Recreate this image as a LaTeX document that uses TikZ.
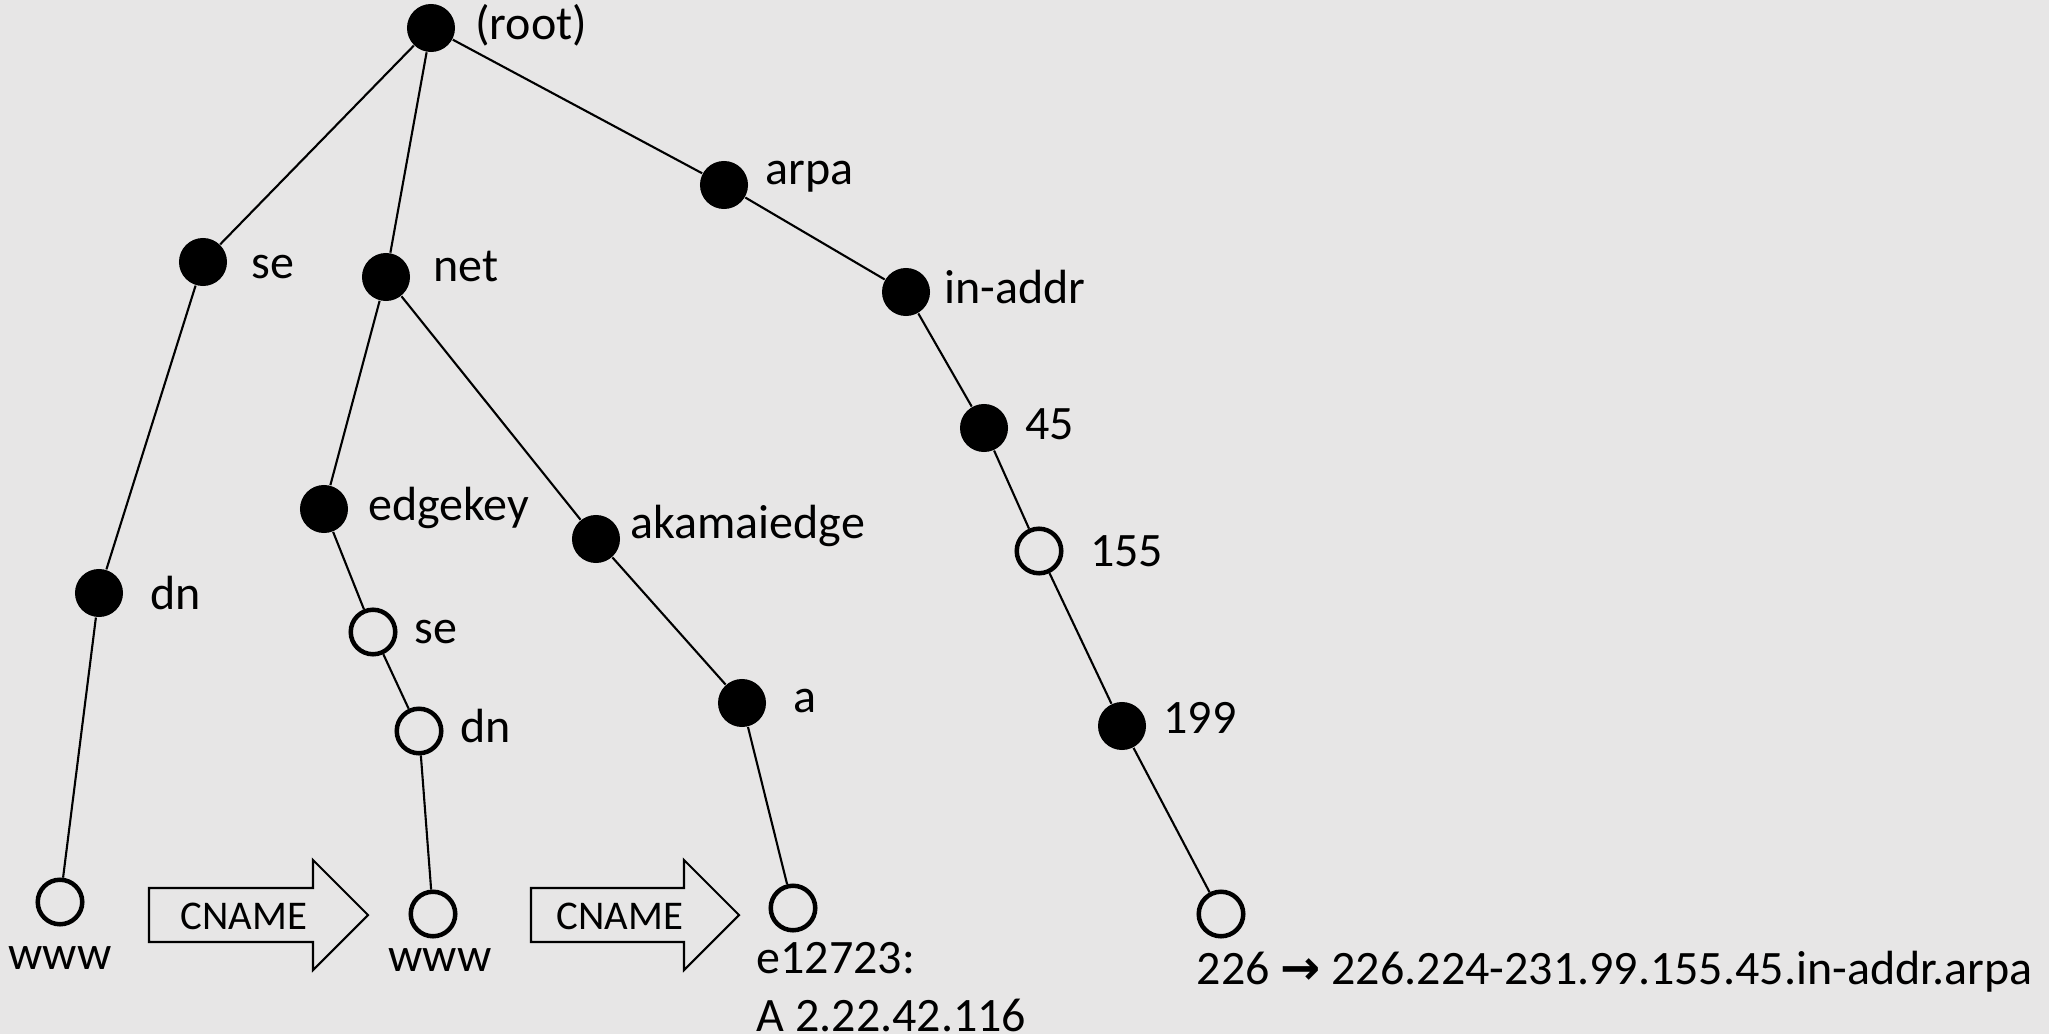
\documentclass[tikz,border=0pt]{standalone}
\usepackage{fontspec}
\setmainfont{Carlito}
\newfontfamily\arrowfont{DejaVu Sans}
\usepackage{tikz}
\usetikzlibrary{shapes,arrows, positioning}
\definecolor{slidegray}{RGB}{231,230,230}
\newcommand{\lblfont}{\fontsize{13.65}{16.4}\selectfont}
\tikzstyle{bnode} = [circle, fill, inner sep = 0pt, minimum size = 0.48cm]
\tikzstyle{onode} = [circle, draw, fill = slidegray, line width = 0.045cm, inner sep = 0pt, minimum size = 0.445cm]
\tikzstyle{line} = [draw, line width = 0.6pt]
\tikzstyle{cname} = [draw, line width = 0.6pt]
\tikzset{every label/.style = {inner sep = 0pt, text height = 0.83em, text depth = 0.17em, font = \lblfont}}

\begin{document}
\begin{tikzpicture}[x = 0.01cm, y = -0.01cm, label distance = 0.16cm]
			\path [use as bounding box, fill = slidegray] (0, 0) rectangle (2049, 1034);

			\node [bnode, label={[xshift=0.03cm]right:(root)}] (root) at (431, 28) {};
			\node [bnode, label={[xshift=0.07cm, yshift=-0.05cm]right:se}] (se) at (203, 262) {};
			\node [bnode, label={[xshift=0.06cm, yshift=0.07cm]right:net}] (net) at (386, 277) {};
			\node [bnode, label={[yshift=0.12cm]right:arpa}] (arpa) at (724, 185) {};
			\node [bnode, label={[xshift=-0.03cm]right:in-addr}] (inaddr) at (906, 292) {};
			\node [bnode, label=right:{45}] (45) at (984, 428) {};
			\node [onode, label={[xshift=0.1cm, yshift=-0.04cm]right:155}] (155) at (1039, 551) {};
			\node [bnode, label={[yshift=0.04cm]right:199}] (199) at (1122, 726) {};
			\node [onode, label={[anchor=north west, xshift=-0.25cm]below:226 {\arrowfont\bfseries →} 226.224-231.99.155.45.in-addr.arpa}] (226) at (1221, 914) {};

			\node [bnode, label={[xshift=0.1cm, yshift=-0.05cm]right:dn}] (dn) at (99, 593) {};
			\node [onode, label={[yshift=0.03cm]below:www}] (wwwa) at (60, 902) {};

			\node [bnode, label={[xshift=0.03cm]right:edgekey}] (edgekey) at (324, 509) {};
			\node [onode, label=right:{se}] (seb) at (373, 632) {};
			\node [onode, label=right:{dn}] (dnb) at (419, 731) {};
			\node [onode, label={[xshift=0.07cm, yshift=0.125cm]below:www}] (wwwb) at (433, 914) {};

			\node [bnode, label={[xshift=-0.07cm, yshift=0.12cm]right:akamaiedge}] (akamai) at (596, 539) {};
			\node [bnode, label={[xshift=0.1cm, yshift=0.02cm]right:a}] (a) at (742, 703) {};
			\node [onode, label={[anchor=north west, xshift=-0.37cm, yshift=0.065cm, align=left, text height=, text depth=]below:e12723:\\A 2.22.42.116}] (e12723) at (793, 908) {};

			\path [line] (root) -- (se);
			\path [line] (root) -- (net);
			\path [line] (root) -- (arpa);
			\path [line] (se) -- (dn);
			\path [line] (dn) -- (wwwa);
			\path [line] (net) -- (edgekey);
			\path [line] (net) -- (akamai);
			\path [line] (edgekey) -- (seb);
			\path [line] (seb) -- (dnb);
			\path [line] (dnb) -- (wwwb);
			\path [line] (akamai) -- (a);
			\path [line] (a) -- (e12723);
			\path [line] (arpa) -- (inaddr);
			\path [line] (inaddr) -- (45);
			\path [line] (45) -- (155);
			\path [line] (155) -- (199);
			\path [line] (199) -- (226);

			% CNAME block arrows
			\coordinate (cn1) at (149, 915);
			\coordinate (cn2) at (531, 915);
			\draw [cname] (cn1) ++(0, -27) -- ++(164, 0) -- ++(0, -28) -- ++(55, 55) -- ++(-55, 55) -- ++(0, -28) -- ++(-164, 0) -- cycle;
			\draw [cname] (cn2) ++(0, -27) -- ++(153, 0) -- ++(0, -28) -- ++(55, 55) -- ++(-55, 55) -- ++(0, -28) -- ++(-153, 0) -- cycle;
			\node [font = \fontsize{11.6}{14}\selectfont] (cname1) at (244, 916) {CNAME};
			\node [font = \fontsize{11.6}{14}\selectfont] (cname2) at (620, 916) {CNAME};
		\end{tikzpicture}
\end{document}
